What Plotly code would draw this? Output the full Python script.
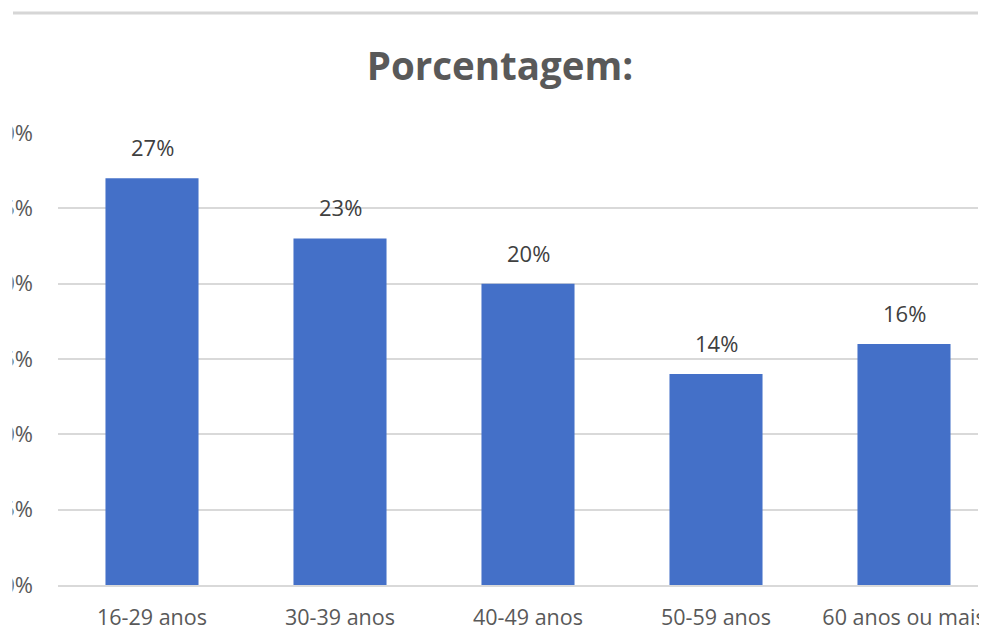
import plotly.graph_objects as go

# Age bands and their share of respondents (%)
categories = ["16-29 anos", "30-39 anos", "40-49 anos", "50-59 anos", "60 anos ou mais"]
values = [27, 23, 20, 14, 16]
y_ticks = [0, 5, 10, 15, 20, 25, 30]
title_text = "Porcentagem:"

W, H = 983, 632
ML, MR, MT, MB = 58, 5, 133, 47
plot_w = W - ML - MR
band = 188.0  # pixel width of one category slot
x_end = plot_w / band - 0.5

FONT = "Open Sans, Arial, sans-serif"
TXT = "#595959"
GRID = "#d9d9d9"

fig = go.Figure()
fig.add_trace(go.Bar(
    x=categories,
    y=values,
    width=0.495,
    marker=dict(color="#4470c8", line=dict(width=0)),
    hoverinfo="x+y",
))

# value labels above each bar
for c, v in zip(categories, values):
    fig.add_annotation(
        x=c, y=v, text=f"{v}%", showarrow=False,
        yanchor="bottom", yshift=14,
        font=dict(family=FONT, size=22, color="#404040"),
    )

def px_to_paper_x(px):
    return (px - ML) / plot_w

def px_to_paper_y(py):
    return (H - MB - py) / (H - MT - MB)

# page edges: thin frame line at the top and white borders on the sides
fig.add_shape(type="line", xref="paper", yref="paper",
              x0=px_to_paper_x(13), x1=px_to_paper_x(978),
              y0=px_to_paper_y(13), y1=px_to_paper_y(13),
              line=dict(color="#d6d6d6", width=3), layer="above")
fig.add_shape(type="rect", xref="paper", yref="paper",
              x0=px_to_paper_x(-5), x1=px_to_paper_x(12.5),
              y0=px_to_paper_y(H + 5), y1=px_to_paper_y(-5),
              fillcolor="white", line=dict(width=0), layer="above")
fig.add_shape(type="rect", xref="paper", yref="paper",
              x0=px_to_paper_x(979), x1=px_to_paper_x(W + 5),
              y0=px_to_paper_y(H + 5), y1=px_to_paper_y(-5),
              fillcolor="white", line=dict(width=0), layer="above")

fig.update_layout(
    width=W, height=H,
    margin=dict(l=ML, r=MR, t=MT, b=MB, autoexpand=False),
    paper_bgcolor="white", plot_bgcolor="white",
    showlegend=False,
    title=dict(
        text=f"<b>{title_text}</b>",
        x=500 / W, xref="container", xanchor="center",
        y=1 - 67 / H, yref="container", yanchor="middle",
        font=dict(family=FONT, size=38.5, color=TXT),
    ),
)

fig.update_xaxes(
    range=[-0.5, x_end],
    showgrid=False, zeroline=False,
    showline=True, linecolor=GRID, linewidth=2,
    ticks="", ticklabelstandoff=12,
    tickfont=dict(family=FONT, size=21.5, color=TXT),
    automargin=False,
)
fig.update_yaxes(
    range=[0, 30],
    tickvals=y_ticks, ticktext=[f"{t}%" for t in y_ticks],
    showgrid=True, gridcolor=GRID, gridwidth=1.5,
    zeroline=False, showline=False,
    ticks="", ticklabelstandoff=24,
    tickfont=dict(family=FONT, size=22, color=TXT),
    automargin=False,
)

fig.write_html("out.html")
